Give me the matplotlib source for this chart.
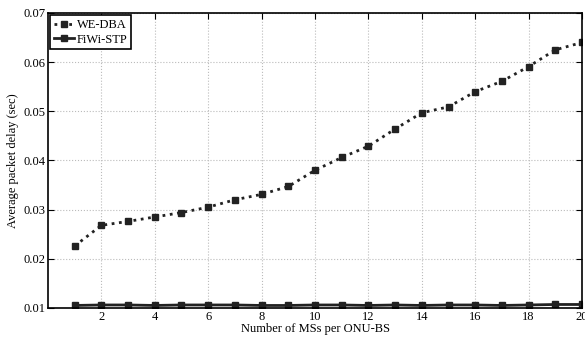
import matplotlib.pyplot as plt

plt.rcParams['font.family'] = ['Liberation Serif', 'DejaVu Serif']

ms = list(range(1, 21))
we_dba = [0.0226, 0.0268, 0.0276, 0.0285, 0.0294, 0.0305, 0.0320, 0.0331, 0.0347, 0.0380,
          0.0406, 0.0429, 0.0464, 0.0497, 0.0509, 0.0540, 0.0561, 0.0591, 0.0625, 0.0640]
fiwi_stp = [0.0105, 0.0106, 0.0106, 0.0105, 0.0106, 0.0106, 0.0106, 0.0105, 0.0105, 0.0106,
            0.0106, 0.0105, 0.0106, 0.0105, 0.0106, 0.0106, 0.0105, 0.0106, 0.0107, 0.0107]
xticks = list(range(2, 21, 2))
yticks = [0.01, 0.02, 0.03, 0.04, 0.05, 0.06, 0.07]

fig = plt.figure(figsize=(5.85, 3.41), dpi=100)
ax = fig.add_axes([0.082, 0.097, 0.913, 0.865])

ax.plot(ms, we_dba, color='#222222', linestyle=':', linewidth=2, marker='s', markersize=4,
        label='WE-DBA')
ax.plot(ms, fiwi_stp, color='#222222', linestyle='-', linewidth=2, marker='s', markersize=4,
        label='FiWi-STP')

ax.set_xlim(0, 20)
ax.set_ylim(0.01, 0.07)
ax.set_xticks(xticks)
ax.set_yticks(yticks)
ax.set_yticklabels(['%.2f' % v for v in yticks])
ax.tick_params(direction='in', top=True, right=True, labelsize=9, length=4, pad=2)
ax.grid(True, linestyle=':', color='#bbbbbb', linewidth=0.8)
for s in ax.spines.values():
    s.set_linewidth(1.2)

ax.set_xlabel('Number of MSs per ONU-BS', fontsize=9, labelpad=0)
ax.set_ylabel('Average packet delay (sec)', fontsize=9, labelpad=3)

leg = ax.legend(loc='upper left', fontsize=9, fancybox=False, edgecolor='black',
                handlelength=1.6, handletextpad=0.2, borderpad=0.3, labelspacing=0.2,
                borderaxespad=0.2, framealpha=1)
leg.get_frame().set_linewidth(1.2)

fig.savefig('out.png', dpi=100)
